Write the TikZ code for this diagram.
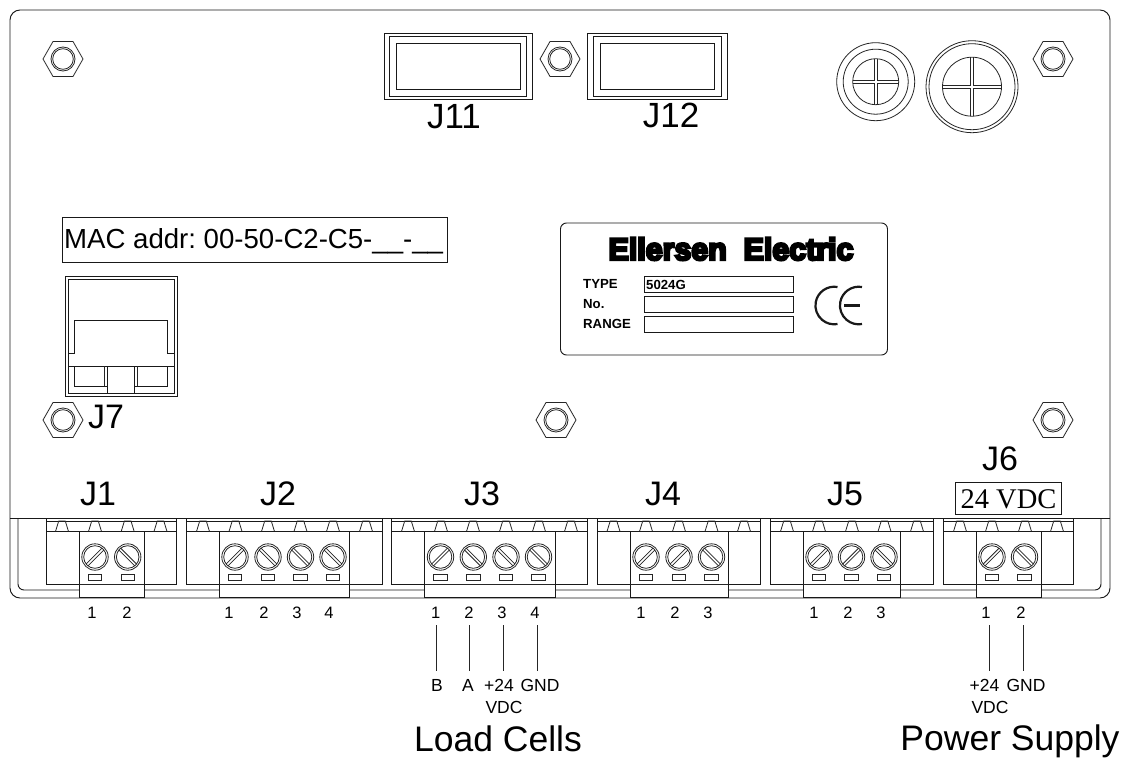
\documentclass[tikz,border=0pt]{standalone}
\usepackage{fontspec}
\setmainfont{Liberation Sans}
\newfontfamily\timesf{Liberation Serif}
\newfontfamily\heavyf[FakeBold=8]{Liberation Sans Bold}
\newcommand{\fsz}[1]{\fontsize{#1}{#1}\selectfont\frenchspacing}
\tikzset{
  ln/.style={draw=black!90,line width=0.95pt},
  thin ln/.style={draw=black!85,line width=0.8pt},
  big/.style={anchor=base,inner sep=0pt,font=\fsz{34}},
  pin/.style={anchor=base,inner sep=0pt,font=\fsz{16.5}},
  wire/.style={anchor=base,inner sep=0pt,font=\fsz{17.5}},
  plate/.style={anchor=base west,inner sep=0pt,font=\bfseries\fsz{13.2}},
  field/.style={ln,fill=white},
}
\newcommand{\nut}[2]{%
  \draw[thin ln] (#1-20,#2) -- (#1-10,#2-17.5) -- (#1+10,#2-17.5) -- (#1+20,#2) -- (#1+10,#2+17.5) -- (#1-10,#2+17.5) -- cycle;
  \draw[thin ln] (#1,#2) circle (12);
  \draw[thin ln] (#1,#2) circle (10.3);
}
\newcommand{\terminal}[5]{%
  \draw[ln] (#1,518) -- (#1,584) -- (#2,584) -- (#2,518);
  \draw[ln] (#1,521) -- (#2,521);
  \draw[ln] (#1,531.5) -- (#2,531.5);
  \foreach \t in {#3} {\draw[thin ln] (\t-6.5,531.5) -- (\t-3.3,521) -- (\t+3.3,521) -- (\t+6.5,531.5);}
  \path[fill=white] (#4,531.5) rectangle (#5,597);
  \draw[ln] (#4,531.5) rectangle (#5,597);
  \draw[thin ln] (#4,584) -- (#5,584);
}
\newcommand{\screws}[1]{%
  \foreach \s/\a in {#1} {
    \draw[thin ln] (\s,557) circle (13.2);
    \draw[thin ln] (\s,557) circle (11.3);
    \draw[thin ln] (\s,557) ++(-\a:11.5) ++(-\a+90:1.3) -- ++(-\a+180:23);
    \draw[thin ln] (\s,557) ++(-\a:11.5) ++(-\a-90:1.3) -- ++(-\a+180:23);
    \draw[thin ln] (\s-6.7,574.5) rectangle (\s+6.7,580.5);
  }
}
\newcommand{\gland}[3]{%
  \draw[thin ln] (#1,#2) circle (#3);
  \draw[thin ln] (#1-#3,#2-1.2) -- (#1-1.2,#2-1.2) -- (#1-1.2,#2-#3);
  \draw[thin ln] (#1+#3,#2-1.2) -- (#1+1.2,#2-1.2) -- (#1+1.2,#2-#3);
  \draw[thin ln] (#1-#3,#2+1.2) -- (#1-1.2,#2+1.2) -- (#1-1.2,#2+#3);
  \draw[thin ln] (#1+#3,#2+1.2) -- (#1+1.2,#2+1.2) -- (#1+1.2,#2+#3);
}
\begin{document}
\begin{tikzpicture}[x=1pt,y=-1pt]
\useasboundingbox[fill=white] (0,0) rectangle (1139,760);
% case
\draw[ln,rounded corners=10pt] (10,300) -- (10,10) -- (1110,10) -- (1110,598) -- (10,598) -- cycle;
\draw[ln] (10,518) -- (1110,518);
\draw[ln,rounded corners=6pt] (18,518) -- (18,590) -- (1101,590) -- (1101,518);
% nuts
\nut{63}{59}\nut{560}{59}\nut{1053}{59}\nut{63}{420}\nut{556}{420}\nut{1053}{420}
% J11
\draw[ln] (384,33.5) rectangle (532.5,99);
\draw[ln] (389.5,36.5) rectangle (526.5,96);
\draw[ln] (396,43) rectangle (520,89.5);
\node[big] (j11) at (454,128) {\fsz{35}J11};
% J12
\draw[ln] (587,33) rectangle (727,99);
\draw[ln] (593,36) rectangle (721,96);
\draw[ln] (600,43) rectangle (714,89);
\node[big] (j12) at (671,127) {\fsz{35}J12};
% glands
\draw[thin ln] (875.7,81.7) circle (39);
\draw[thin ln] (875.7,81.7) circle (32.5);
\gland{875.7}{81.7}{23}
\draw[thin ln] (972,86.7) circle (46);
\draw[thin ln] (972,86.7) circle (43);
\gland{972}{86.7}{29.5}
% MAC
\draw[ln] (62,217) rectangle (447,262);
\node[anchor=base west,inner sep=0pt,font=\fsz{27.6}] (mac) at (64,248) {MAC addr: 00-50-C2-C5-\_\_-\_\_};
% J7
\draw[ln] (65,276) rectangle (177,396);
\draw[ln] (68,279.5) rectangle (174,393);
\draw[ln] (68,353) -- (74.5,353) -- (74.5,320) -- (167,320) -- (167,353) -- (174,353);
\draw[ln] (68,366) -- (174,366);
\draw[ln] (74.5,366) -- (74.5,386) -- (107,386);
\draw[ln] (167,366) -- (167,386) -- (134.5,386);
\draw[ln] (107,366) -- (107,393);
\draw[ln] (134.5,366) -- (134.5,393);
\draw[thin ln] (104,366) -- (104,386);
\draw[thin ln] (137.5,366) -- (137.5,386);
\node[big] (j7) at (106,428) {J7};
% nameplate
\draw[ln,rounded corners=6pt] (560.5,223) rectangle (887.5,355);
\node[anchor=base,inner sep=0pt,xscale=0.98] (title) at (731,260) {\heavyf\fsz{31}Ellersen\ \ Electric};
\node[plate] (type) at (583,288) {TYPE};
\node[plate] (no) at (583,308) {No.};
\node[plate] (range) at (583,328) {RANGE};
\draw[field] (644.5,276.5) rectangle (793.5,292.5);
\draw[field] (644.5,296.5) rectangle (793.5,312);
\draw[field] (644.5,316.5) rectangle (793.5,332.5);
\node[plate] (val) at (646,289) {5024G};
\draw[line width=2.2pt,black!90] (837.5,287) arc[start angle=-80,end angle=-280,radius=18.8];
\draw[line width=2.2pt,black!90] (862,287) arc[start angle=-80,end angle=-280,radius=18.8];
\draw[line width=2.2pt,black!90] (844,305.5) -- (860,305.5);
% connector labels
\node[big] (j1) at (98,505) {J1};
\node[big] (j2) at (278,505) {J2};
\node[big] (j3) at (482,505) {J3};
\node[big] (j4) at (663,505) {J4};
\node[big] (j5) at (845,505) {J5};
\node[big] (j6) at (1000,470) {J6};
\draw[ln] (955,482) rectangle (1061.5,514.5);
\node[anchor=base,inner sep=0pt] (vdc) at (1008.5,508) {\timesf\fsz{28.5}24 VDC};
% terminals
\terminal{46}{176}{62,95,127.7,160.5}{79}{144}
\screws{95/45,127.7/135}
\terminal{186}{382}{203,235.5,268,300.5,333,366}{219}{349.5}
\screws{235/45,268/135,300.5/135,333/135}
\terminal{391.7}{587.5}{408,441,473,506,539,571}{424.5}{555}
\screws{440.5/45,473.3/135,506/135,538.5/135}
\terminal{597.5}{760.5}{613.5,646,679,711.5,744}{630}{728}
\screws{646/45,679/45,711.5/135}
\terminal{770}{933.5}{787,819,852,884.5,917}{803}{900.5}
\screws{819/45,851.5/45,884/135}
\terminal{943}{1073.5}{960,992,1025,1057}{976}{1041}
\screws{992/45,1024.5/135}
% pin numbers
\foreach \x/\t/\n in {92/1/a1,127/2/a2,229/1/b1,264/2/b2,297/3/b3,329/4/b4,435.7/1/c1,469/2/c2,502/3/c3,535/4/c4,641/1/d1,675/2/d2,708/3/d3,814/1/e1,848/2/e2,881/3/e3,986/1/f1,1021/2/f2}
  {\node[pin] (pin\n) at (\x,618) {\t};}
% wires
\coordinate (w1t) at (436.5,625); \coordinate (w1b) at (436.5,671);
\coordinate (w2t) at (469,625);   \coordinate (w2b) at (469,671);
\coordinate (w3t) at (503.5,625); \coordinate (w3b) at (503.5,671);
\coordinate (w4t) at (537.5,625); \coordinate (w4b) at (537.5,671);
\coordinate (w5t) at (989.3,625); \coordinate (w5b) at (989.3,671);
\coordinate (w6t) at (1023.7,625);\coordinate (w6b) at (1023.7,671);
\foreach \i in {1,...,6} {\draw[thin ln] (w\i t) -- (w\i b);}
\node[wire] (lb) at (437,691) {B};
\node[wire] (la) at (468,691) {A};
\node[wire] (lp) at (499,691) {+24};
\node[wire] (lg) at (540,691) {GND};
\node[wire] (lv) at (504,713) {VDC};
\node[wire] (mp) at (984.5,691) {+24};
\node[wire] (mg) at (1026,691) {GND};
\node[wire] (mv) at (990,713) {VDC};
\node[big] (load) at (498,751) {\fsz{35.5}Load Cells};
\node[big] (pwr) at (1010,750) {\fsz{35.5}Power Supply};
\end{tikzpicture}
\end{document}
